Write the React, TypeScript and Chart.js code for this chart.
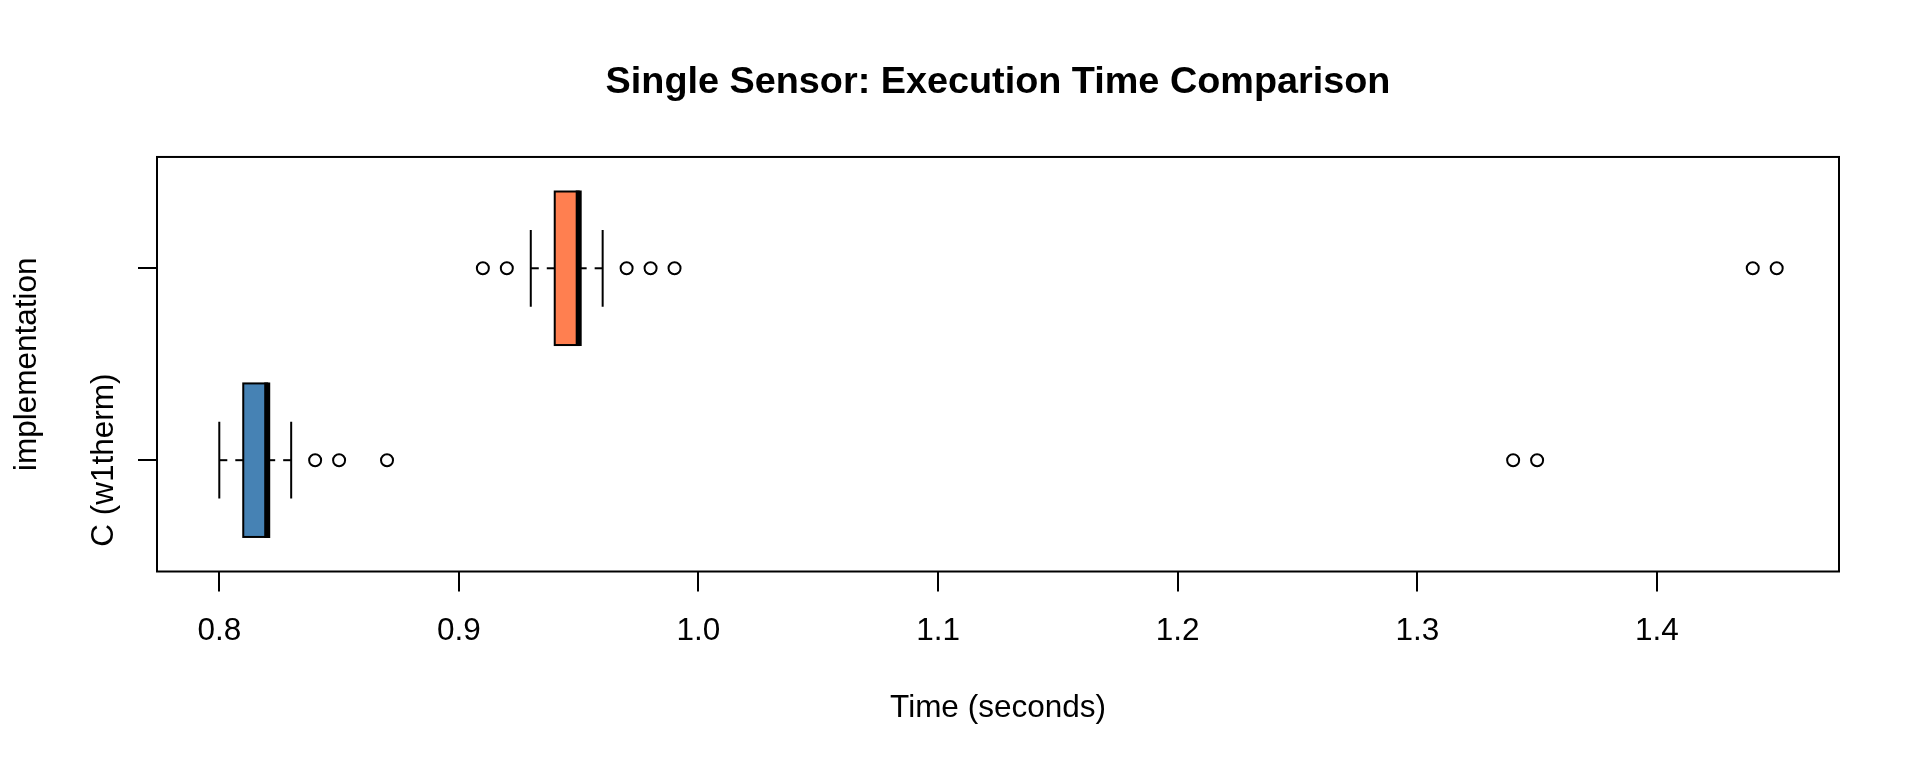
import React, { useEffect, useRef } from "react";
import { Chart, registerables } from "chart.js";

Chart.register(...registerables);

// ---- Data ----
const categories = ["C (w1therm)", ""];
const whiskerLow = [0.8, 0.93];
const q1 = [0.81, 0.94];
const median = [0.82, 0.95];
const q3 = [0.82, 0.95];
const whiskerHigh = [0.83, 0.96];
const outliersC = [0.84, 0.85, 0.87, 1.34, 1.35];
const outliersSecond = [0.91, 0.92, 0.97, 0.98, 0.99, 1.44, 1.45];
const boxColors = ["#4682B4", "#FF7F50"];
const xTicks = [0.8, 0.9, 1.0, 1.1, 1.2, 1.3, 1.4];
const yTicks = [1, 2];

const TITLE = "Single Sensor: Execution Time Comparison";
const X_TITLE = "Time (seconds)";
const Y_TITLE = "implementation";

const FONT_FAMILY = "'Liberation Sans', Arial, sans-serif";
const FONT_SIZE = 31.5;
const BOX_HALF = 0.4;
const STAPLE_HALF = 0.2;

const boxPlugin = {
  id: "boxplotDraw",
  beforeDatasetsDraw(chart: any) {
    const { ctx, chartArea, scales } = chart;
    const x = scales.x;
    const y = scales.y;
    ctx.save();
    ctx.strokeStyle = "#000";
    ctx.lineCap = "butt";
    for (let i = 0; i < categories.length; i++) {
      const pos = i + 1;
      const yc = y.getPixelForValue(pos);
      const yt = y.getPixelForValue(pos + BOX_HALF);
      const yb = y.getPixelForValue(pos - BOX_HALF);
      const st = y.getPixelForValue(pos + STAPLE_HALF);
      const sb = y.getPixelForValue(pos - STAPLE_HALF);
      const xl = x.getPixelForValue(whiskerLow[i]);
      const xq1 = x.getPixelForValue(q1[i]);
      const xm = x.getPixelForValue(median[i]);
      const xq3 = x.getPixelForValue(q3[i]);
      const xh = x.getPixelForValue(whiskerHigh[i]);

      // dashed whiskers (drawn from whisker end towards the box)
      ctx.lineWidth = 2;
      ctx.setLineDash([8, 8]);
      ctx.beginPath();
      ctx.moveTo(xl, yc);
      ctx.lineTo(xq1, yc);
      ctx.stroke();
      ctx.beginPath();
      ctx.moveTo(xh, yc);
      ctx.lineTo(xq3, yc);
      ctx.stroke();
      ctx.setLineDash([]);

      // staples
      ctx.beginPath();
      ctx.moveTo(xl, st);
      ctx.lineTo(xl, sb);
      ctx.moveTo(xh, st);
      ctx.lineTo(xh, sb);
      ctx.stroke();

      // box
      ctx.fillStyle = boxColors[i];
      ctx.fillRect(xq1, yt, xq3 - xq1, yb - yt);
      ctx.lineWidth = 2;
      ctx.strokeRect(xq1, yt, xq3 - xq1, yb - yt);

      // median
      ctx.lineWidth = 6;
      ctx.beginPath();
      ctx.moveTo(xm, yt - 1);
      ctx.lineTo(xm, yb + 1);
      ctx.stroke();
    }

    // frame
    ctx.lineWidth = 2;
    ctx.strokeRect(chartArea.left, chartArea.top, chartArea.right - chartArea.left, chartArea.bottom - chartArea.top);

    // category labels (rotated, parallel to axis)
    ctx.fillStyle = "#000";
    ctx.font = `${FONT_SIZE}px ${FONT_FAMILY}`;
    ctx.textAlign = "center";
    ctx.textBaseline = "alphabetic";
    for (let i = 0; i < categories.length; i++) {
      if (!categories[i]) continue;
      const yc = y.getPixelForValue(i + 1);
      ctx.save();
      ctx.translate(113, yc);
      ctx.rotate(-Math.PI / 2);
      ctx.fillText(categories[i], 0, 0);
      ctx.restore();
    }
    ctx.restore();
  },
};

export default function App() {
  const canvasRef = useRef<HTMLCanvasElement | null>(null);

  useEffect(() => {
    if (!canvasRef.current) return;
    Chart.defaults.font.family = FONT_FAMILY;
    Chart.defaults.color = "#000";

    const pointStyleCommon = {
      pointStyle: "circle",
      pointRadius: 6,
      pointBorderWidth: 2,
      pointBorderColor: "#000",
      pointBackgroundColor: "rgba(0,0,0,0)",
      showLine: false,
    };

    const chart = new Chart(canvasRef.current, {
      type: "scatter",
      data: {
        datasets: [
          { label: "out1", data: outliersC.map((v) => ({ x: v, y: 1 })), ...pointStyleCommon } as any,
          { label: "out2", data: outliersSecond.map((v) => ({ x: v, y: 2 })), ...pointStyleCommon } as any,
        ],
      },
      options: {
        animation: false,
        responsive: false,
        events: [],
        layout: { padding: { left: 0, right: 81, top: 0, bottom: 0 } },
        elements: {
          point: { radius: 6, borderWidth: 2, borderColor: "#000", backgroundColor: "rgba(0,0,0,0)", pointStyle: "circle" },
        },
        plugins: {
          legend: { display: false },
          tooltip: { enabled: false },
          title: {
            display: true,
            text: TITLE,
            color: "#000",
            fullSize: false,
            font: { size: 37.8, weight: "bold", family: FONT_FAMILY, lineHeight: 1.2 },
            padding: { top: 59.8, bottom: 51.8 },
          },
        },
        scales: {
          x: {
            type: "linear",
            position: "bottom",
            min: 0.774,
            max: 1.476,
            afterBuildTicks: (s: any) => {
              s.ticks = xTicks.map((v) => ({ value: v }));
            },
            afterFit: (s: any) => {
              s.height = 196.5;
            },
            ticks: {
              callback: (v: any) => Number(v).toFixed(1),
              font: { size: FONT_SIZE, family: FONT_FAMILY, lineHeight: 1.2 },
              color: "#000",
              padding: 20.5,
              maxRotation: 0,
              minRotation: 0,
              autoSkip: false,
            },
            grid: { drawOnChartArea: false, drawTicks: true, tickLength: 20, color: "#000", lineWidth: 2 },
            border: { display: false },
            title: {
              display: true,
              text: X_TITLE,
              color: "#000",
              font: { size: FONT_SIZE, family: FONT_FAMILY, lineHeight: 1.2 },
              padding: { top: 0, bottom: 40.5 },
            },
          },
          y: {
            type: "linear",
            position: "left",
            min: 0.42,
            max: 2.58,
            afterBuildTicks: (s: any) => {
              s.ticks = yTicks.map((v) => ({ value: v }));
            },
            afterFit: (s: any) => {
              s.width = 157;
            },
            ticks: { display: false },
            grid: { drawOnChartArea: false, drawTicks: true, tickLength: 19, color: "#000", lineWidth: 2 },
            border: { display: false },
            title: {
              display: true,
              text: Y_TITLE,
              color: "#000",
              font: { size: FONT_SIZE, family: FONT_FAMILY, lineHeight: 1.2 },
              padding: { top: 8.7, bottom: 0 },
            },
          },
        },
      } as any,
      plugins: [boxPlugin],
    });

    return () => chart.destroy();
  }, []);

  return (
    <div style={{ position: "absolute", left: 0, top: 0, width: 1920, height: 768, background: "#fff" }}>
      <canvas ref={canvasRef} width={1920} height={768} style={{ display: "block", width: 1920, height: 768 }} />
    </div>
  );
}
